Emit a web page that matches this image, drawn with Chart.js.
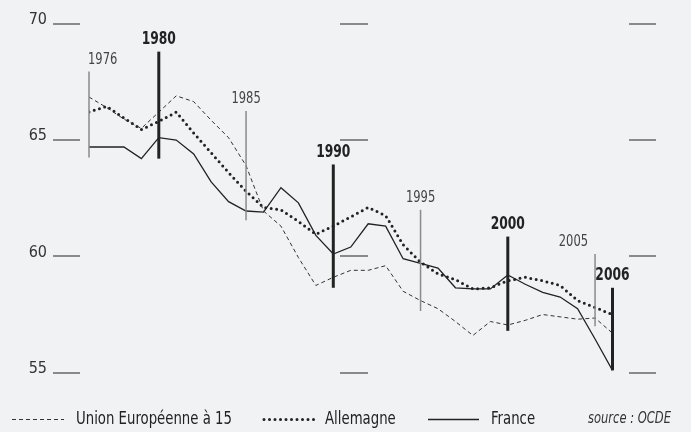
<!DOCTYPE html>
<html>
<head>
<meta charset="utf-8">
<script src="https://cdn.jsdelivr.net/npm/chart.js@4.4.1/dist/chart.umd.min.js"></script>
<style>
html, body { margin: 0; padding: 0; background: #f1f2f4; }
#wrap { width: 691px; height: 432px; position: relative; }
</style>
</head>
<body>
<div id="wrap"><canvas id="chartTaux"></canvas></div>
<script>
// annees et series
var annees = [1976, 1977, 1978, 1979, 1980, 1981, 1982, 1983, 1984, 1985, 1986, 1987, 1988, 1989, 1990,
              1991, 1992, 1993, 1994, 1995, 1996, 1997, 1998, 1999, 2000, 2001, 2002, 2003, 2004, 2005, 2006];
var ue15 = [66.85, 66.4, 65.9, 65.5, 66.2, 66.9, 66.65, 65.85, 65.1, 63.9, 61.95, 61.3, 59.95, 58.75, 59.1,
            59.4, 59.4, 59.6, 58.5, 58.1, 57.75, 57.2, 56.6, 57.2, 57.05, 57.25, 57.5, 57.4, 57.3, 57.35, 56.7];
var allemagne = [66.2, 66.45, 65.95, 65.45, 65.8, 66.2, 65.3, 64.45, 63.6, 62.8, 62.1, 62.0, 61.5, 60.95, 61.3,
                 61.7, 62.1, 61.75, 60.5, 59.75, 59.25, 59.0, 58.6, 58.65, 58.95, 59.1, 58.95, 58.75, 58.1, 57.8, 57.5];
var france = [64.7, 64.7, 64.7, 64.2, 65.1, 65.0, 64.4, 63.2, 62.35, 61.95, 61.9, 62.95, 62.3, 60.9, 60.1,
              60.4, 61.4, 61.3, 59.9, 59.7, 59.5, 58.65, 58.6, 58.6, 59.2, 58.8, 58.45, 58.25, 57.75, 56.45, 55.1];
var yTicks = [55, 60, 65, 70];

// reperes verticaux : annee, haut, bas
var reperesAnnees = [1976, 1980, 1985, 1990, 1995, 2000, 2005, 2006];
var reperesHaut = [67.95, 68.8, 66.25, 63.95, 62.0, 60.85, 60.1, 58.65];
var reperesBas = [64.25, 64.2, 61.55, 58.65, 57.65, 56.8, 57.0, 55.1];
var reperesGras = [1980, 1990, 2000, 2006];

var police = "'DejaVu Sans Condensed', 'DejaVu Sans', sans-serif";

function points(serie) {
    return annees.map(function(a, i) { return { x: a, y: serie[i] }; });
}

// texte etroit (la police d'origine est condensee)
function texte(ctx, t, x, y, align, font, sx) {
    ctx.save();
    ctx.translate(x, y);
    ctx.scale(sx, 1);
    ctx.font = font;
    ctx.textAlign = align;
    ctx.textBaseline = 'middle';
    ctx.fillText(t, 0, 0);
    ctx.restore();
}

var styleUE = { color: '#333', width: 1, dash: [4, 3], cap: 'butt' };
var styleAll = { color: '#222', width: 3, dash: [0, 5.5], cap: 'round' };
var styleFr = { color: '#222', width: 1.3, dash: [], cap: 'butt' };

// traits de graduation, reperes et legende
var decorPlugin = {
    id: 'decor',
    afterDatasetsDraw: function(chart) {
        var ctx = chart.ctx;
        var xs = chart.scales.x, ys = chart.scales.y;
        ctx.save();

        // petits traits de graduation (gauche, milieu, droite)
        ctx.strokeStyle = '#8a8a8a';
        ctx.lineWidth = 2;
        yTicks.forEach(function(v) {
            var y = Math.round(ys.getPixelForValue(v));
            [[53, 80], [340, 368], [629, 656]].forEach(function(seg) {
                ctx.beginPath();
                ctx.moveTo(seg[0], y);
                ctx.lineTo(seg[1], y);
                ctx.stroke();
            });
        });

        // reperes annuels
        reperesAnnees.forEach(function(a, i) {
            var gras = reperesGras.indexOf(a) >= 0;
            var x = xs.getPixelForValue(a);
            var yh = ys.getPixelForValue(reperesHaut[i]);
            var yb = ys.getPixelForValue(reperesBas[i]);
            ctx.beginPath();
            ctx.strokeStyle = gras ? '#222' : '#8a8a8a';
            ctx.lineWidth = gras ? 3 : 1.5;
            ctx.moveTo(x, yh);
            ctx.lineTo(x, yb);
            ctx.stroke();

            ctx.fillStyle = gras ? '#222' : '#444';
            var align = 'center', tx = x;
            if (i === 0) { align = 'left'; tx = x - 1; }
            else if (i < reperesAnnees.length - 1 && reperesAnnees[i + 1] - a <= 1) { align = 'right'; tx = x - 7; }
            texte(ctx, String(a), tx, yh - 12, align, (gras ? 'bold 18px ' : '16px ') + police, gras ? 0.76 : 0.8);
        });

        // legende
        var yl = 419;
        var items = [
            { style: styleUE, x0: 12, x1: 64, label: 'Union Européenne à 15', tx: 76 },
            { style: styleAll, x0: 264, x1: 317, label: 'Allemagne', tx: 325 },
            { style: styleFr, x0: 428, x1: 479, label: 'France', tx: 491 }
        ];
        items.forEach(function(it) {
            ctx.beginPath();
            ctx.strokeStyle = it.style.color;
            ctx.lineWidth = it.style.width;
            ctx.setLineDash(it.style.dash);
            ctx.lineCap = it.style.cap;
            ctx.moveTo(it.x0, yl + 0.5);
            ctx.lineTo(it.x1, yl + 0.5);
            ctx.stroke();
            ctx.setLineDash([]);
            ctx.lineCap = 'butt';
            ctx.fillStyle = '#222';
            texte(ctx, it.label, it.tx, yl, 'left', '18px ' + police, 0.82);
        });
        ctx.fillStyle = '#333';
        texte(ctx, 'source : OCDE', 588, yl, 'left', 'italic 16px ' + police, 0.8);

        ctx.restore();
    }
};

function dataset(label, serie, st) {
    return {
        label: label,
        data: points(serie),
        borderColor: st.color,
        borderWidth: st.width,
        borderDash: st.dash,
        borderCapStyle: st.cap,
        pointRadius: 0,
        tension: 0,
        fill: false
    };
}

var ctxTaux = document.getElementById('chartTaux').getContext('2d');
var chartTaux = new Chart(ctxTaux, {
    type: 'line',
    data: {
        datasets: [
            dataset('Union Européenne à 15', ue15, styleUE),
            dataset('Allemagne', allemagne, styleAll),
            dataset('France', france, styleFr)
        ]
    },
    options: {
        responsive: true,
        maintainAspectRatio: false,
        animation: false,
        layout: { padding: { left: 0, right: 78.5, top: 23.7, bottom: 59.3 } },
        plugins: { legend: { display: false }, tooltip: { enabled: false } },
        scales: {
            x: { type: 'linear', display: false, min: 1976, max: 2006 },
            y: {
                min: 55,
                max: 70,
                afterBuildTicks: function(s) { s.ticks = yTicks.map(function(v) { return { value: v }; }); },
                afterFit: function(s) { s.width = 89; s.paddingTop = 0; s.paddingBottom = 0; },
                ticks: { padding: 4, labelOffset: -4, color: '#333', font: { family: police, size: 16 } },
                grid: { display: false, drawTicks: true, tickLength: 38 },
                border: { display: false }
            }
        }
    },
    plugins: [decorPlugin]
});
</script>
</body>
</html>
